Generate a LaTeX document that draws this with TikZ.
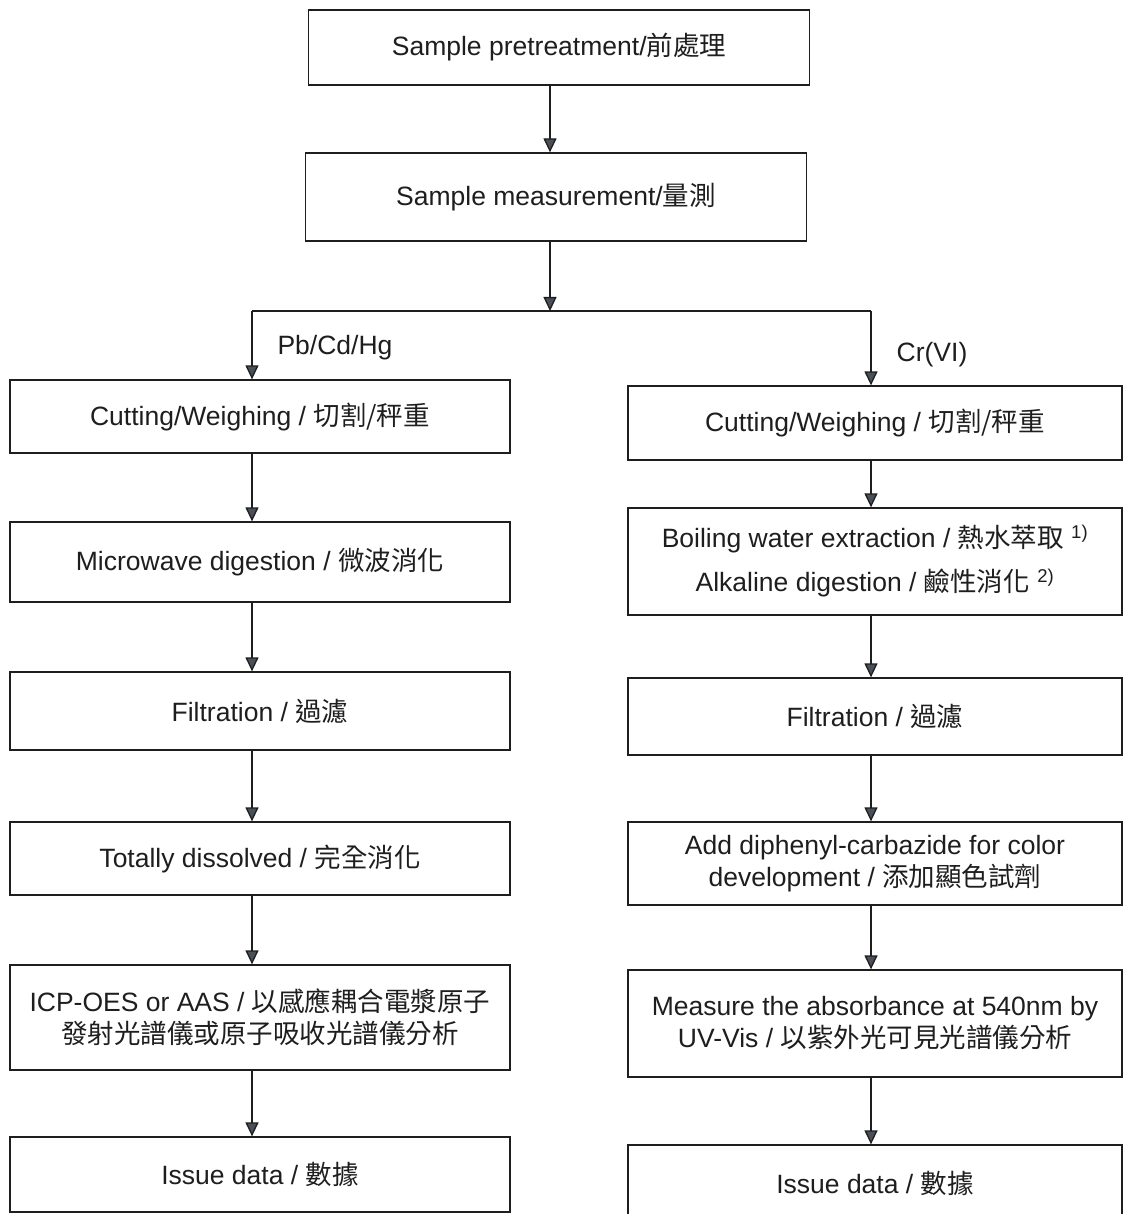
\documentclass[tikz,border=0pt]{standalone}
\usepackage{fontspec}
\setmainfont{Liberation Sans}
\newfontfamily\cjk{Noto Sans CJK TC}
\usetikzlibrary{arrows.meta}
\definecolor{ink}{HTML}{1E1E1E}
\definecolor{tipc}{HTML}{4A505A}
\tikzset{
  box/.style={draw=ink, line width=1.3pt, rectangle, inner sep=0pt, align=center,
    text=ink, font=\fontsize{26.5}{32}\selectfont},
  lbox/.style={box, minimum width=500pt},
  rbox/.style={box, minimum width=494pt},
  arr/.style={draw=ink, line width=1.3pt, -{Triangle[width=13pt,length=14pt,fill=tipc]}},
  conn/.style={draw=ink, line width=1.3pt},
  lbl/.style={text=ink, font=\fontsize{26.5}{30}\selectfont, inner sep=0pt}
}
\begin{document}
\begin{tikzpicture}[x=1pt,y=-1pt]
\useasboundingbox (0,0) rectangle (1123,1214);
\fill[white] (0,0) rectangle (1123,1214);
% top
\node[box, minimum width=501pt, minimum height=75pt] (pre) at (559,47.5) {Sample pretreatment/{\cjk 前處理}};
\node[box, minimum width=501pt, minimum height=88pt] (meas) at (556,197) {Sample measurement/{\cjk 量測}};
\coordinate (split) at (550,311);
\coordinate (lt) at (252,311);
\coordinate (rt) at (871,311);
% left column
\node[lbox, minimum height=73pt] (L1) at (260,416.5) {Cutting/Weighing / {\cjk 切割/秤重}};
\node[lbox, minimum height=80pt] (L2) at (260,562) {Microwave digestion / {\cjk 微波消化}};
\node[lbox, minimum height=78pt] (L3) at (260,711) {Filtration / {\cjk 過濾}};
\node[lbox, minimum height=73pt] (L4) at (260,858.5) {Totally dissolved / {\cjk 完全消化}};
\node[lbox, minimum height=105pt] (L5) at (260,1017.5) {ICP-OES or AAS / {\cjk 以感應耦合電漿原子}\\{\cjk 發射光譜儀或原子吸收光譜儀分析}};
\node[lbox, minimum height=75pt] (L6) at (260,1174.5) {Issue data / {\cjk 數據}};
% right column
\node[rbox, minimum height=74pt] (R1) at (875,423) {Cutting/Weighing / {\cjk 切割/秤重}};
\node[rbox, minimum height=107pt] (R2) at (875,561.5) {\raisebox{0pt}{Boiling water extraction / {\cjk 熱水萃取} \textsuperscript{1)}}\\[12pt]Alkaline digestion / {\cjk 鹼性消化} \textsuperscript{2)}};
\node[rbox, minimum height=77pt] (R3) at (875,716.5) {Filtration / {\cjk 過濾}};
\node[rbox, minimum height=83pt] (R4) at (875,863.5) {Add diphenyl-carbazide for color\\development / {\cjk 添加顯色試劑}};
\node[rbox, minimum height=107pt] (R5) at (875,1023.5) {Measure the absorbance at 540nm by\\UV-Vis / {\cjk 以紫外光可見光譜儀分析}};
\node[rbox, minimum height=76pt] (R6) at (875,1183) {Issue data / {\cjk 數據}};
% labels
\node[lbl] (pb) at (335,348) {Pb/Cd/Hg};
\node[lbl] (cr) at (932,355) {Cr(VI)};
% connectors
\draw[arr] ([xshift=-9pt]pre.south) -- ([xshift=-6pt]meas.north);
\draw[arr] ([xshift=-6pt]meas.south) -- (split);
\draw[conn] (lt) -- (rt);
\draw[arr] (lt) -- (lt |- L1.north);
\draw[arr] (rt) -- (rt |- R1.north);
\foreach \a/\b in {L1/L2,L2/L3,L3/L4,L4/L5,L5/L6}{
  \draw[arr] (lt |- \a.south) -- (lt |- \b.north);
}
\foreach \a/\b in {R1/R2,R2/R3,R3/R4,R4/R5,R5/R6}{
  \draw[arr] (rt |- \a.south) -- (rt |- \b.north);
}
\end{tikzpicture}
\end{document}
